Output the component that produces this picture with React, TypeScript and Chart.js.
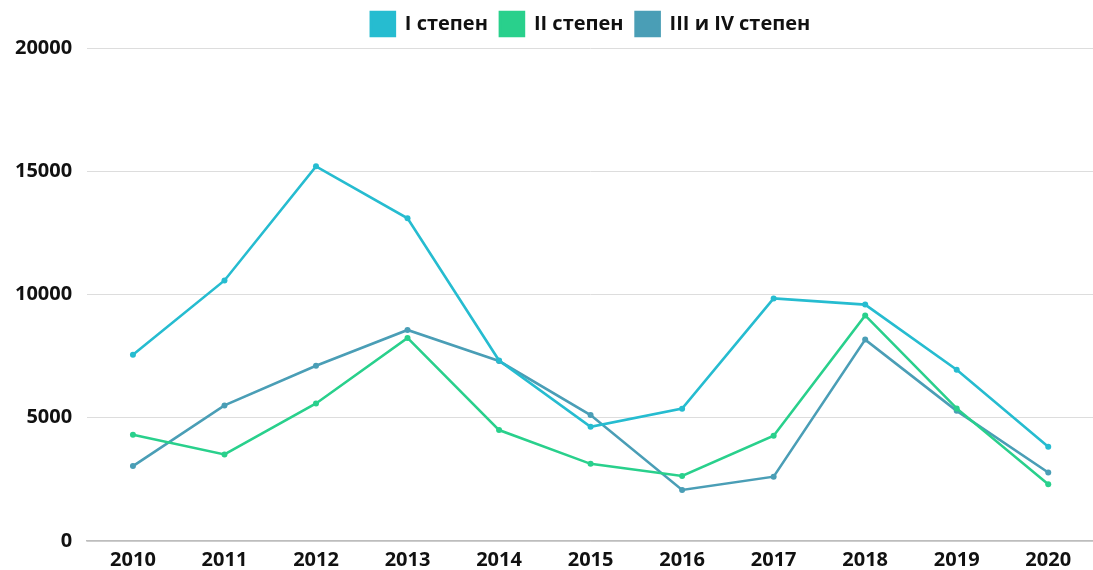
import React, { useEffect, useRef } from "react";
import { Chart, registerables } from "chart.js";

Chart.register(...registerables);

const years = ["2010", "2011", "2012", "2013", "2014", "2015", "2016", "2017", "2018", "2019", "2020"];
const seriesI = [7560, 10570, 15200, 13090, 7320, 4630, 5370, 9840, 9590, 6950, 3820];
const seriesII = [4310, 3510, 5580, 8240, 4500, 3130, 2640, 4270, 9150, 5380, 2300];
const seriesIII = [3040, 5500, 7110, 8560, 7300, 5110, 2070, 2610, 8170, 5280, 2780];
const seriesNames = ["I степен", "II степен", "III и IV степен"];
const colors = ["#26BCD0", "#29D08C", "#4A9EB6"];

const legendSpacing = {
  id: "legendSpacing",
  beforeInit(chart: any) {
    const legend = chart.legend;
    if (!legend) return;
    const orig = legend.fit;
    legend.fit = function () {
      orig.call(this);
      this.height += 2;
    };
  },
};

export default function App() {
  const ref = useRef<HTMLCanvasElement | null>(null);
  useEffect(() => {
    if (!ref.current) return;
    const font = { family: "'Open Sans', sans-serif", size: 20, weight: "bold" as const };
    const data = [seriesI, seriesII, seriesIII];
    const chart = new Chart(ref.current, {
      type: "line",
      data: {
        labels: years,
        datasets: data.map((d, i) => ({
          label: seriesNames[i],
          data: d,
          borderColor: colors[i],
          backgroundColor: colors[i],
          borderWidth: 2.6,
          pointRadius: 3,
          pointBackgroundColor: colors[i],
          pointBorderWidth: 0,
          tension: 0,
        })),
      },
      plugins: [legendSpacing],
      options: {
        animation: false,
        responsive: true,
        maintainAspectRatio: false,
        layout: { padding: { left: 0, right: 0, top: 0, bottom: 0 } },
        plugins: {
          legend: {
            position: "top",
            fullSize: false,
            labels: {
              font,
              color: "#111",
              boxWidth: 24,
              boxHeight: 24,
              padding: 12,
            },
          },
          tooltip: { enabled: false },
        },
        scales: {
          x: {
            offset: true,
            grid: { display: false, drawTicks: false },
            border: { display: true, color: "#bdbdbd", width: 1.5 },
            ticks: { font, color: "#111", padding: 7, maxRotation: 0 },
          },
          y: {
            min: 0,
            max: 20000,
            grid: { color: "#dddddd", lineWidth: 1, drawTicks: false },
            border: { display: false },
            ticks: {
              stepSize: 5000,
              font,
              color: "#111",
              padding: 15,
              callback: (v: any) => String(v),
            },
          },
        },
      },
    });
    return () => chart.destroy();
  }, []);
  return (
    <div style={{ position: "fixed", left: 0, top: 0, width: 1098, height: 579, background: "#fff" }}>
      <canvas ref={ref} />
    </div>
  );
}
